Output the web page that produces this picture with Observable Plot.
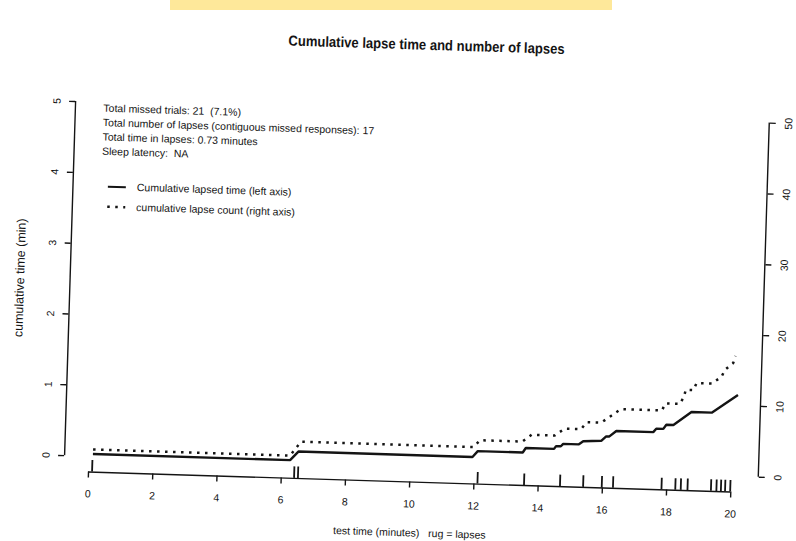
<!DOCTYPE html>
<html>
<head>
<meta charset="utf-8">
<script src="https://cdn.jsdelivr.net/npm/d3@7"></script>
<script src="https://cdn.jsdelivr.net/npm/@observablehq/plot@0.6"></script>
<style>
  html, body { margin: 0; padding: 0; background: #fff; overflow: hidden; }
  #page { position: relative; width: 796px; height: 541px; overflow: hidden; background: #fff; }
  #sheet { position: absolute; left: 0; top: 0; width: 796px; height: 541px;
           transform: rotate(1.78deg); font-family: "Liberation Sans", Arial, sans-serif; color: #141414; }
  #title { position: absolute; left: 0; top: 34px; width: 838px; text-align: center;
           font: bold 14.5px/20px "Liberation Sans", Arial, sans-serif; color: #141414; }
  #title span { display: inline-block; transform: scaleX(0.9); }
  #chart { position: absolute; left: 0; top: 60px; }
  #marker { position: absolute; left: 170px; top: 0; width: 442px; height: 10px; background: #fee89a; }
</style>
</head>
<body>
<div id="page">
  <div id="sheet">
    <div id="title"><span>Cumulative lapse time and number of lapses</span></div>
    <div id="chart"></div>
  </div>
  <div id="marker"></div>
</div>
<script>
// Axis ticks
const xTicks = [0, 2, 4, 6, 8, 10, 12, 14, 16, 18, 20];
const yTicks = [0, 1, 2, 3, 4, 5];
const countTicks = [0, 10, 20, 30, 40, 50];
const countsPerMinute = 10; // right axis: 10 lapses per left-axis minute

// Session summary
const missedTrials = 21;
const missedPct = 7.1;
const lapseTotal = 17;
const lapseMinutes = 0.73;
const sleepLatency = "NA";

// Lapse onsets (rug), test time in minutes
const lapseRug = [0.11, 6.40, 6.52, 12.11, 13.56, 14.68, 15.40, 15.98, 16.33,
                  17.84, 18.27, 18.44, 18.65, 19.38, 19.55, 19.69, 19.82, 19.98];

// Cumulative lapsed time (left axis)
const lapsedTimeAt = [0.12, 6.26, 6.51, 11.93, 12.09, 13.49, 13.58, 14.46, 14.52, 14.67,
                      14.74, 15.23, 15.36, 15.92, 16.07, 16.17, 16.38, 17.53, 17.62, 17.84,
                      17.93, 18.15, 18.70, 19.33, 20.13];
const lapsedMinutes = [0.035, 0.035, 0.16, 0.16, 0.245, 0.245, 0.31, 0.31, 0.35, 0.35,
                       0.385, 0.385, 0.43, 0.445, 0.51, 0.51, 0.59, 0.59, 0.64, 0.64,
                       0.70, 0.70, 0.89, 0.89, 1.15];

// Cumulative lapse count (right axis)
const lapseCountAt = [0.12, 6.25, 6.42, 6.58, 11.95, 12.15, 13.47, 13.75, 14.47, 14.77,
                      15.28, 15.45, 15.90, 16.20, 16.50, 17.78, 17.88, 18.33, 18.45, 18.50,
                      18.74, 18.83, 19.30, 19.60, 19.70, 19.95, 20.02];
const lapseCount = [1, 1, 2, 3, 3, 4, 4, 5, 5, 6,
                    6, 7, 7, 8, 9, 9, 10, 10, 11, 12,
                    12, 13, 13, 14, 15, 16, 17];

const statsLines = [
  `Total missed trials: ${missedTrials}\u00a0 (${missedPct}%)`,
  `Total number of lapses (contiguous missed responses): ${lapseTotal}`,
  `Total time in lapses: ${lapseMinutes.toFixed(2)} minutes`,
  `Sleep latency:\u00a0 ${sleepLatency}`
];
const legendItems = [
  {label: "Cumulative lapsed time (left axis)", dash: null},
  {label: "cumulative lapse count (right axis)", dash: "2.5 5.5"}
];
const xLabel = "test time (minutes)\u00a0\u00a0 rug = lapses";
const yLabel = "cumulative time (min)";

// Layout
const ink = "#141414";
const W = 796, H = 481;
const M = {left: 70, right: 32, top: 37, bottom: 60};
const xDomain = [-0.76, 20.84];
const yDomain = [-0.22, 5.2];
const rugLen = 0.03 * (yDomain[1] - yDomain[0]);
const dotted = "2.5 5.5";

const timeData = lapsedTimeAt.map((t, i) => ({t, v: lapsedMinutes[i]}));
const countData = lapseCountAt.map((t, i) => ({t, v: lapseCount[i] / countsPerMinute}));

const chart = Plot.plot({
  width: W, height: H,
  marginLeft: M.left, marginRight: M.right, marginTop: M.top, marginBottom: M.bottom,
  x: {domain: xDomain},
  y: {domain: yDomain},
  style: {fontFamily: "'Liberation Sans', Arial, sans-serif", fontSize: "10.5px",
          background: "transparent", color: ink, overflow: "visible"},
  marks: [
    // axis lines span first to last tick
    Plot.ruleY([yDomain[0]], {x1: xTicks[0], x2: xTicks[xTicks.length - 1], stroke: ink, strokeWidth: 1.4}),
    Plot.ruleX([xDomain[0]], {y1: yTicks[0], y2: yTicks[yTicks.length - 1], stroke: ink, strokeWidth: 1.4}),
    Plot.ruleX([xDomain[1]], {y1: countTicks[0] / countsPerMinute,
                              y2: countTicks[countTicks.length - 1] / countsPerMinute, stroke: ink, strokeWidth: 1.4}),
    Plot.axisX({ticks: xTicks, tickFormat: d => String(d), tickSize: 6, tickPadding: 12,
                label: null, stroke: ink, strokeWidth: 1.4}),
    Plot.axisY({ticks: yTicks, tickFormat: d => String(d), anchor: "left", tickSize: 6, tickPadding: 9,
                tickRotate: -90, label: null, stroke: ink, strokeWidth: 1.4}),
    Plot.axisY({ticks: countTicks.map(c => c / countsPerMinute), anchor: "right",
                tickFormat: d => String(Math.round(d * countsPerMinute)),
                tickSize: 6, tickPadding: 17, tickRotate: -90, label: null, stroke: ink, strokeWidth: 1.4}),
    // rug of lapse onsets
    Plot.ruleX(lapseRug, {x: d => d, y1: yDomain[0], y2: yDomain[0] + rugLen, stroke: ink, strokeWidth: 1.8}),
    // cumulative series
    Plot.line(timeData, {x: "t", y: "v", stroke: ink, strokeWidth: 2.4, strokeLinejoin: "miter", strokeLinecap: "butt"}),
    Plot.line(countData, {x: "t", y: "v", stroke: ink, strokeWidth: 2.5, strokeDasharray: dotted,
                          strokeLinecap: "butt", strokeLinejoin: "miter"}),
    // summary text
    ...statsLines.map((s, i) => Plot.text([s], {
      text: d => d, frameAnchor: "top-left", dx: 28, dy: 20 + i * 14.4,
      textAnchor: "start", lineAnchor: "middle", fill: ink
    })),
    Plot.text([yLabel], {text: d => d, frameAnchor: "left", dx: -50, rotate: -90,
                         textAnchor: "middle", lineAnchor: "middle", fill: ink, fontSize: 12.5}),
    Plot.text([xLabel], {text: d => d, frameAnchor: "bottom", dy: 51,
                         textAnchor: "middle", lineAnchor: "middle", fill: ink})
  ]
});

// line-style legend in the upper left of the plot area
const legend = d3.select(chart).append("g")
  .attr("transform", `translate(${M.left},${M.top})`)
  .attr("text-anchor", "start");
legendItems.forEach((item, i) => {
  const y = 98.7 + i * 20;
  legend.append("line")
    .attr("x1", 35.4).attr("x2", 53.4).attr("y1", y).attr("y2", y)
    .attr("stroke", ink).attr("stroke-width", item.dash ? 2.5 : 2)
    .attr("stroke-dasharray", item.dash);
  legend.append("text")
    .attr("x", 64.4).attr("y", y).attr("dy", "0.32em")
    .attr("text-anchor", "start")
    .attr("fill", ink)
    .text(item.label);
});

document.getElementById("chart").appendChild(chart);
</script>
</body>
</html>
